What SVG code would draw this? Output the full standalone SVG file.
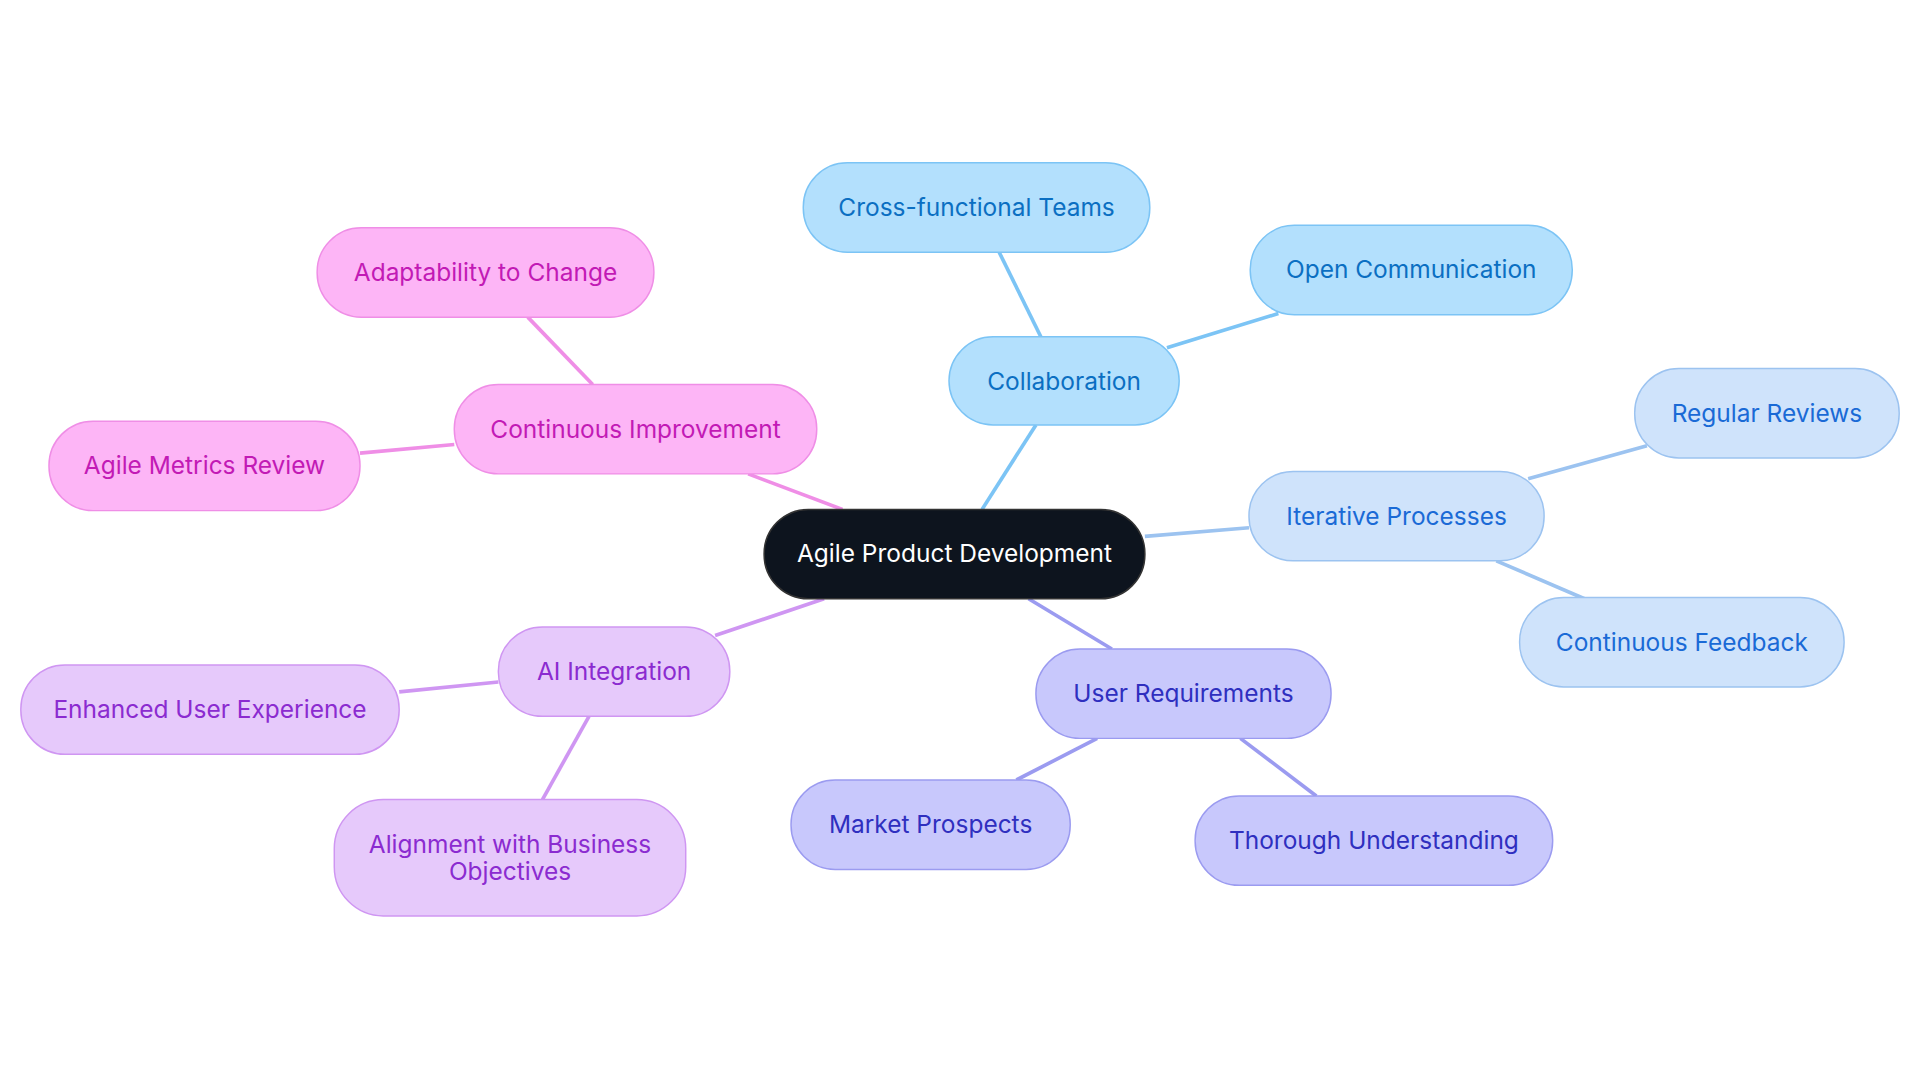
<svg xmlns="http://www.w3.org/2000/svg" width="1920" height="1083" viewBox="0 0 1920 1083">
<style>
text{font-family:Inter,"Noto Sans",sans-serif;font-size:20px;text-anchor:middle;dominant-baseline:central}
.c rect{fill:#b3e0fd;stroke:#7cc4f5;stroke-width:1.2}.c text{fill:#0b6fc2}
.i rect{fill:#cfe3fb;stroke:#9cc3f0;stroke-width:1.2}.i text{fill:#1a6ad6}
.u rect{fill:#c8c8fc;stroke:#9b9bf0;stroke-width:1.2}.u text{fill:#2f2fbf}
.a rect{fill:#e6c9fb;stroke:#cf96f2;stroke-width:1.2}.a text{fill:#8b2bd0}
.p rect{fill:#fdb5f6;stroke:#ef8ee6;stroke-width:1.2}.p text{fill:#c21ab5}
#edges line{stroke-width:3}
</style>
<rect width="1920" height="1083" fill="#fff"/>
<g transform="scale(1.2245)">
<g id="edges">
<line x1="802" y1="416" x2="846" y2="347" stroke="#7cc4f5"/>
<line x1="850" y1="275" x2="816" y2="206" stroke="#7cc4f5"/>
<line x1="953" y1="284" x2="1044" y2="256" stroke="#7cc4f5"/>
<line x1="935" y1="438" x2="1020" y2="431" stroke="#9cc3f0"/>
<line x1="1248" y1="391" x2="1345" y2="364" stroke="#9cc3f0"/>
<line x1="1222" y1="458" x2="1294" y2="489" stroke="#9cc3f0"/>
<line x1="840" y1="489" x2="908" y2="530" stroke="#9b9bf0"/>
<line x1="896" y1="603" x2="830" y2="637" stroke="#9b9bf0"/>
<line x1="1013" y1="603" x2="1075" y2="650" stroke="#9b9bf0"/>
<line x1="673" y1="489" x2="584" y2="519" stroke="#cf96f2"/>
<line x1="407" y1="557" x2="326" y2="565" stroke="#cf96f2"/>
<line x1="481" y1="585" x2="443" y2="653" stroke="#cf96f2"/>
<line x1="688" y1="416" x2="611" y2="387" stroke="#ef8ee6"/>
<line x1="484" y1="314" x2="431" y2="259" stroke="#ef8ee6"/>
<line x1="371" y1="363" x2="294" y2="370" stroke="#ef8ee6"/>
</g>
<g id="center"><rect x="624" y="416" width="311" height="73" rx="36" fill="#0d141e" stroke="#333" stroke-width="1.2"/><text x="779.5" y="452" fill="#fff">Agile Product Development</text></g>
<g id="collab" class="c"><rect x="775" y="275" width="188" height="72" rx="36"/><text x="869" y="311">Collaboration</text></g>
<g id="cross" class="c"><rect x="656" y="133" width="283" height="73" rx="36"/><text x="797.5" y="169">Cross-functional Teams</text></g>
<g id="open" class="c"><rect x="1021" y="184" width="263" height="73" rx="36"/><text x="1152.5" y="220">Open Communication</text></g>
<g id="iter" class="i"><rect x="1020" y="385" width="241" height="73" rx="36"/><text x="1140.5" y="421">Iterative Processes</text></g>
<g id="regular" class="i"><rect x="1335" y="301" width="216" height="73" rx="36"/><text x="1443" y="337">Regular Reviews</text></g>
<g id="feedback" class="i"><rect x="1241" y="488" width="265" height="73" rx="36"/><text x="1373.5" y="524">Continuous Feedback</text></g>
<g id="user" class="u"><rect x="846" y="530" width="241" height="73" rx="36"/><text x="966.5" y="566">User Requirements</text></g>
<g id="market" class="u"><rect x="646" y="637" width="228" height="73" rx="36"/><text x="760" y="673">Market Prospects</text></g>
<g id="thorough" class="u"><rect x="976" y="650" width="292" height="73" rx="36"/><text x="1122" y="686">Thorough Understanding</text></g>
<g id="ai" class="a"><rect x="407" y="512" width="189" height="73" rx="36"/><text x="501.5" y="548">AI Integration</text></g>
<g id="enhanced" class="a"><rect x="17" y="543" width="309" height="73" rx="36"/><text x="171.5" y="579">Enhanced User Experience</text></g>
<g id="align" class="a"><rect x="273" y="653" width="287" height="95" rx="40"/><text x="416.5" y="689">Alignment with Business</text><text x="416.5" y="711">Objectives</text></g>
<g id="ci" class="p"><rect x="371" y="314" width="296" height="73" rx="36"/><text x="519" y="350">Continuous Improvement</text></g>
<g id="adapt" class="p"><rect x="259" y="186" width="275" height="73" rx="36"/><text x="396.5" y="222">Adaptability to Change</text></g>
<g id="metrics" class="p"><rect x="40" y="344" width="254" height="73" rx="36"/><text x="167" y="380">Agile Metrics Review</text></g>
</g>
</svg>
